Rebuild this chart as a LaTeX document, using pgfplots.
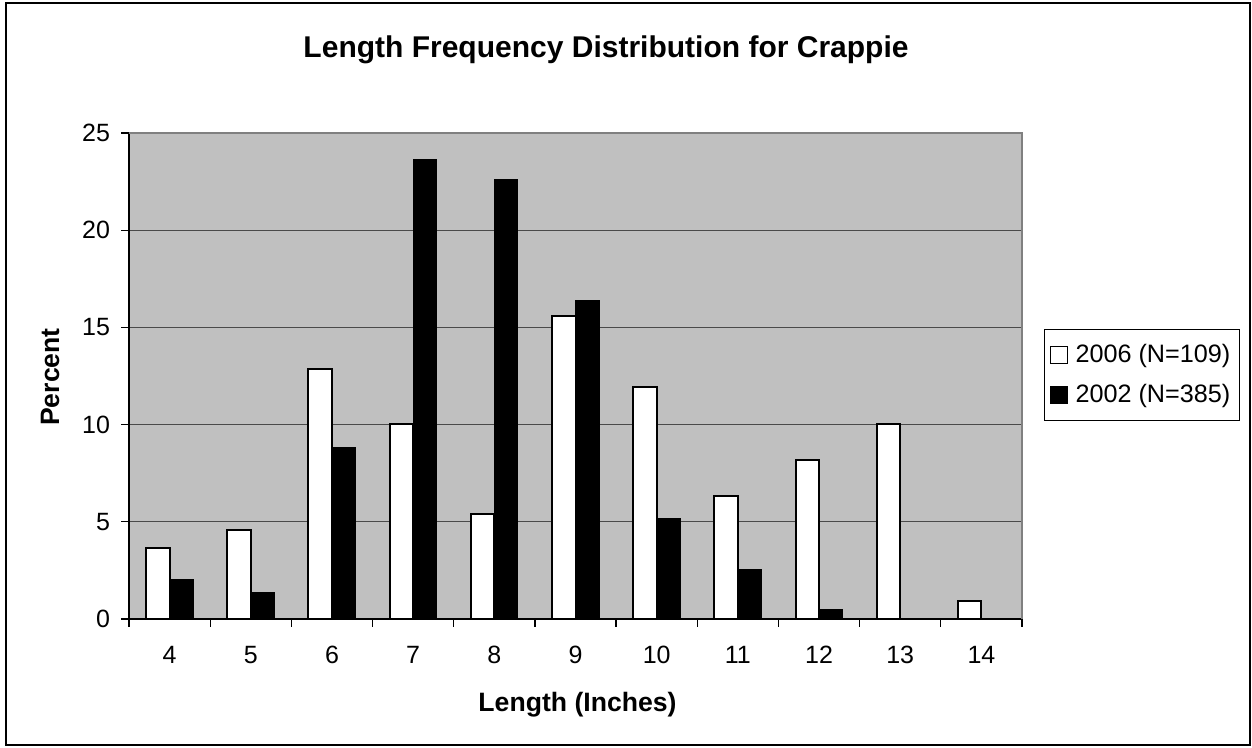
\documentclass[border=0pt]{standalone}
\usepackage{fontspec}
\setmainfont{Liberation Sans}
\usepackage{pgfplots}
\pgfplotsset{compat=1.18}
\definecolor{bgGray}{HTML}{C0C0C0}
\definecolor{gridGray}{HTML}{4A4A4A}
\definecolor{frameGray}{HTML}{808080}
\begin{document}
\begin{tikzpicture}
\useasboundingbox (0,0) rectangle (626pt,374pt);
\draw[line width=1pt] (3pt,1.5pt) rectangle (625pt,372.5pt);
\node[font=\fontsize{15}{18}\selectfont\bfseries, anchor=base] at (303pt,345pt) {Length Frequency Distribution for Crappie};
\node[font=\fontsize{13.3}{16}\selectfont\bfseries, rotate=90, anchor=center] at (25pt,185.5pt) {Percent};
\node[font=\fontsize{13.3}{16}\selectfont\bfseries, anchor=base] at (288.75pt,18.2pt) {Length (Inches)};
\begin{axis}[
  at={(64.5pt,64.5pt)}, anchor=south west,
  scale only axis, width=446.5pt, height=243pt,
  xmin=3.5, xmax=14.5, ymin=0, ymax=25,
  ybar=0pt, bar width=0.29,
  axis background/.style={fill=bgGray},
  axis x line*=bottom, axis y line*=left,
  axis line style={black, line width=0.6pt},
  xtick={4,5,...,14},
  minor xtick={3.5,4.5,...,14.5},
  every major x tick/.style={draw=none},
  tick align=outside,
  major tick length=4pt, minor tick length=4pt,
  tick style={black, line width=0.6pt},
  ytick={0,5,...,25},
  ymajorgrids, major grid style={gridGray, line width=0.6pt},
  /pgf/number format/assume math mode=true,
  ticklabel style={font=\fontsize{12.5}{15}\selectfont},
  yticklabel style={xshift=-2pt},
  xticklabel style={yshift=-6pt},
  legend style={at={(1.0247,0.502)}, anchor=west, draw=black, line width=0.5pt,
    fill=white, font=\fontsize{12.6}{15}\selectfont, row sep=5.5pt,
    inner xsep=2.5pt, inner ysep=5.25pt},
  legend cell align=left,
  clip=false,
]
\addplot[fill=white, draw=black, line width=1pt,
  legend image code/.code={\path[draw=none,fill=none] (-0.5pt,0pt) -- (10.5pt,0pt);\draw[fill=white, draw=black, line width=0.5pt] (0pt,-4.25pt) rectangle (8.5pt,4.25pt);}]
  coordinates {(4,3.67) (5,4.6) (6,12.85) (7,10.05) (8,5.4) (9,15.6) (10,11.93) (11,6.35) (12,8.2) (13,10.05) (14,0.91)};
\addlegendentry{2006 (N=109)}
\addplot[fill=black, draw=black, line width=0.5pt,
  legend image code/.code={\path[draw=none,fill=none] (-0.5pt,0pt) -- (10.5pt,0pt);\draw[fill=black, draw=black, line width=0.5pt] (0pt,-4.25pt) rectangle (8.5pt,4.25pt);}]
  coordinates {(4,2.04) (5,1.34) (6,8.84) (7,23.66) (8,22.63) (9,16.37) (10,5.15) (11,2.57) (12,0.51)};
\addlegendentry{2002 (N=385)}
\draw[frameGray, line width=0.6pt] (rel axis cs:0,1) -- (rel axis cs:1,1) -- (rel axis cs:1,0);
\end{axis}
\end{tikzpicture}
\end{document}
